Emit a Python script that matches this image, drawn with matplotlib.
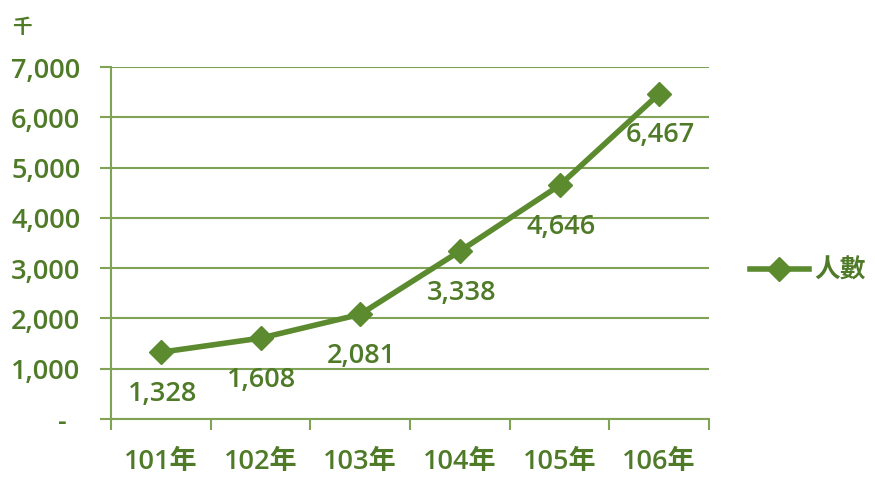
import matplotlib
matplotlib.use("Agg")
import matplotlib.pyplot as plt
from matplotlib.ticker import FuncFormatter

years = ["101年", "102年", "103年", "104年", "105年", "106年"]
people = [1328, 1608, 2081, 3338, 4646, 6467]
yticks = [0, 1000, 2000, 3000, 4000, 5000, 6000, 7000]

LINE = "#5b8a2f"
TEXT = "#4f7a27"
GRID = "#7fa254"

plt.rcParams["font.family"] = ["Open Sans", "Noto Sans CJK TC", "DejaVu Sans"]
plt.rcParams["font.weight"] = "semibold"

fig = plt.figure(figsize=(8.75, 4.78), dpi=100)
ax = fig.add_axes([111 / 875, 1 - 419 / 478, 598 / 875, 352 / 478])

x = list(range(len(years)))
ax.plot(x, people, color=LINE, lw=4, marker="D", ms=12, mfc=LINE, mec=LINE,
        label="人數", zorder=3)
for xi, v in zip(x, people):
    ax.annotate(f"{v:,}", (xi, v), xytext=(1, -30), textcoords="offset points",
                ha="center", va="center", fontsize=19.5, color=TEXT)

ax.set_xlim(-0.5, len(years) - 0.5)
ax.set_ylim(0, 7000)
ax.set_yticks(yticks)
ax.yaxis.set_major_formatter(FuncFormatter(lambda v, p: "-  " if v == 0 else f"{int(v):,}"))
ax.grid(axis="y", color=GRID, lw=1.5)
ax.set_axisbelow(True)

ax.set_xticks(x)
ax.set_xticklabels(years)
ax.set_xticks([i - 0.5 for i in range(len(years) + 1)], minor=True)
ax.tick_params(axis="x", which="major", length=0, pad=21, labelsize=19.5, labelcolor=TEXT)
ax.tick_params(axis="x", which="minor", length=8, width=1.5, color=GRID)
ax.tick_params(axis="y", length=8, width=1.5, color=GRID, pad=14, labelsize=19.5, labelcolor=TEXT)

for s in ["top", "right"]:
    ax.spines[s].set_visible(False)
for s in ["left", "bottom"]:
    ax.spines[s].set_color(GRID)
    ax.spines[s].set_linewidth(1.5)

fig.text(12 / 875, 1 - 28 / 478, "千", fontsize=14, fontweight="bold", color=TEXT,
         ha="left", va="center")

leg = ax.legend(loc="center left", bbox_to_anchor=(1.068, 0.42), frameon=False,
                fontsize=18.5, handlelength=2.3, handletextpad=0.2,
                borderpad=0, borderaxespad=0)
for t in leg.get_texts():
    t.set_color(TEXT)

fig.savefig("out.png", dpi=100)
